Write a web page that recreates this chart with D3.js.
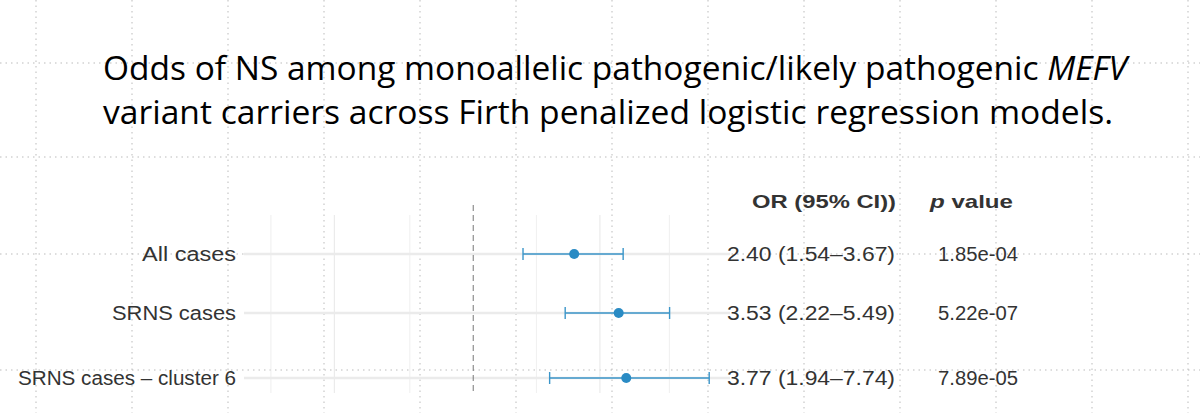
<!DOCTYPE html>
<html><head><meta charset="utf-8">
<script src="https://cdn.jsdelivr.net/npm/d3@7"></script>
<style>body{margin:0;background:#fff}svg{display:block}</style>
</head><body>
<svg id="c" width="1200" height="413"></svg>
<script>
const categories = ["All cases", "SRNS cases", "SRNS cases \u2013 cluster 6"];
const orValues = [2.40, 3.53, 3.77];
const ciLow = [1.54, 2.22, 1.94];
const ciHigh = [3.67, 5.49, 7.74];
const orLabels = ["2.40 (1.54\u20133.67)", "3.53 (2.22\u20135.49)", "3.77 (1.94\u20137.74)"];
const pLabels = ["1.85e-04", "5.22e-07", "7.89e-05"];
const majorBreaks = [0.3, 1, 3];
const minorBreaks = [0.173, 0.577, 1.73, 5.48];

const svg = d3.select("#c");
const FF = "'Liberation Sans', Arial, sans-serif";
const g0 = svg.append("g").attr("stroke", "#bbb").attr("stroke-dasharray", "1.5,4").attr("stroke-width", 1);
d3.range(36, 1200, 96).forEach(x => g0.append("line").attr("x1", x).attr("x2", x).attr("y1", 0).attr("y2", 413));
[63, 157, 254, 370].forEach(y => g0.append("line").attr("x1", 0).attr("x2", 1200).attr("y1", y).attr("y2", y));

const t = svg.append("text").attr("font-family", "'Open Sans', sans-serif").attr("font-size", 32).attr("fill", "#000");
t.append("tspan").attr("x", 103).attr("y", 80).attr("textLength", 1024).attr("lengthAdjust", "spacingAndGlyphs")
  .html('Odds of NS among monoallelic pathogenic/likely pathogenic <tspan font-style="italic">MEFV</tspan>');
t.append("tspan").attr("x", 103).attr("y", 124).attr("textLength", 1010).attr("lengthAdjust", "spacingAndGlyphs")
  .text("variant carriers across Firth penalized logistic regression models.");

const x = d3.scaleLog().domain([0.137, 9.27]).range([244, 730]);
const y = d3.scalePoint().domain(categories).range([254, 378]);
const ys = [254, 313, 378];
const yPos = i => ys[i];

const p = svg.append("g");
minorBreaks.concat(majorBreaks.filter(b => b !== 1)).forEach(b =>
  p.append("line").attr("x1", x(b)).attr("x2", x(b)).attr("y1", 215).attr("y2", 393)
   .attr("stroke", "#ebebeb").attr("stroke-width", b === 0.3 || b === 3 ? 1.2 : 0.8));
categories.forEach((c, i) =>
  p.append("line").attr("x1", 244).attr("x2", 730).attr("y1", yPos(i)).attr("y2", yPos(i))
   .attr("stroke", "#ebebeb").attr("stroke-width", 2.5));
p.append("line").attr("x1", x(1)).attr("x2", x(1)).attr("y1", 205).attr("y2", 393)
  .attr("stroke", "#777").attr("stroke-dasharray", "6,4").attr("stroke-width", 1);

const col = "#3a95c9";
const labW = [94, 124, 218];
categories.forEach((c, i) => {
  const yy = yPos(i);
  p.append("line").attr("x1", x(ciLow[i])).attr("x2", x(ciHigh[i])).attr("y1", yy).attr("y2", yy).attr("stroke", col).attr("stroke-width", 1.4);
  [ciLow[i], ciHigh[i]].forEach(v => p.append("line").attr("x1", x(v)).attr("x2", x(v)).attr("y1", yy - 6).attr("y2", yy + 6).attr("stroke", col).attr("stroke-width", 1.4));
  p.append("circle").attr("cx", x(orValues[i])).attr("cy", yy).attr("r", 5).attr("fill", "#2a8bc4");
  svg.append("text").attr("x", 236).attr("y", yy + 7).attr("text-anchor", "end").attr("font-family", FF).attr("font-size", 20).attr("fill", "#333")
    .attr("textLength", labW[i]).attr("lengthAdjust", "spacingAndGlyphs").text(c);
  svg.append("text").attr("x", 727).attr("y", yy + 7).attr("font-family", FF).attr("font-size", 20).attr("fill", "#333")
    .attr("textLength", 168).attr("lengthAdjust", "spacingAndGlyphs").text(orLabels[i]);
  svg.append("text").attr("x", 938).attr("y", yy + 7).attr("font-family", FF).attr("font-size", 20).attr("fill", "#333")
    .attr("textLength", 80).attr("lengthAdjust", "spacingAndGlyphs").text(pLabels[i]);
});
svg.append("text").attr("x", 752).attr("y", 208).attr("font-family", FF).attr("font-weight", "bold").attr("font-size", 19).attr("fill", "#333")
  .attr("textLength", 144).attr("lengthAdjust", "spacingAndGlyphs").text("OR (95% CI))");
svg.append("text").attr("x", 930).attr("y", 208).attr("font-family", FF).attr("font-weight", "bold").attr("font-size", 19).attr("fill", "#333")
  .attr("textLength", 83).attr("lengthAdjust", "spacingAndGlyphs")
  .html('<tspan font-style="italic">p</tspan> value');
</script>
</body></html>
